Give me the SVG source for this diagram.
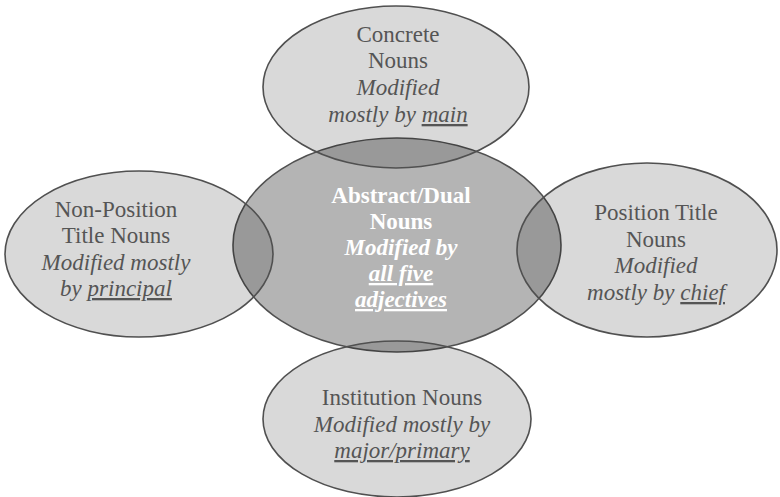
<svg xmlns="http://www.w3.org/2000/svg" width="780" height="497" viewBox="0 0 780 497">
<style>
.outer{fill:#000;fill-opacity:0.15;stroke:#505050;stroke-width:1.6}
.center{fill:#b4b4b4;stroke:#505050;stroke-width:1.6}
text{font-family:'Liberation Serif','DejaVu Serif',serif;font-size:23px;text-anchor:middle;fill:#555}
.i{font-style:italic}
.u{text-decoration:underline}
.w{fill:#fff;font-weight:bold}
</style>
<rect width="780" height="497" fill="#fff"/>
<g id="abstract">
<ellipse class="center" cx="397" cy="245" rx="164" ry="107"/>
<text class="w" font-family="Liberation Serif, serif"><tspan x="401" y="203">Abstract/Dual</tspan><tspan x="401" y="229">Nouns</tspan><tspan class="i" x="401" y="255">Modified by</tspan><tspan class="i u" x="401" y="281">all five</tspan><tspan class="i u" x="401" y="307">adjectives</tspan></text>
</g>
<g id="concrete">
<ellipse class="outer" cx="396" cy="87" rx="133" ry="81"/>
<text font-family="Liberation Serif, serif"><tspan x="398" y="42">Concrete</tspan><tspan x="398" y="68">Nouns</tspan><tspan class="i" x="398" y="95">Modified</tspan><tspan class="i" x="398" y="122">mostly by <tspan class="u">main</tspan></tspan></text>
</g>
<g id="nonposition">
<ellipse class="outer" cx="139" cy="254" rx="134" ry="83"/>
<text font-family="Liberation Serif, serif"><tspan x="116" y="217">Non-Position</tspan><tspan x="116" y="243">Title Nouns</tspan><tspan class="i" x="116" y="270">Modified mostly</tspan><tspan class="i" x="116" y="296">by <tspan class="u">principal</tspan></tspan></text>
</g>
<g id="position">
<ellipse class="outer" cx="647" cy="250" rx="130" ry="87"/>
<text font-family="Liberation Serif, serif"><tspan x="656" y="220">Position Title</tspan><tspan x="656" y="247">Nouns</tspan><tspan class="i" x="656" y="273">Modified</tspan><tspan class="i" x="656" y="300">mostly by <tspan class="u">chief</tspan></tspan></text>
</g>
<g id="institution">
<ellipse class="outer" cx="397" cy="419" rx="134" ry="78"/>
<text font-family="Liberation Serif, serif"><tspan x="402" y="405">Institution Nouns</tspan><tspan class="i" x="402" y="432">Modified mostly by</tspan><tspan class="i u" x="402" y="458">major/primary</tspan></text>
</g>
</svg>
